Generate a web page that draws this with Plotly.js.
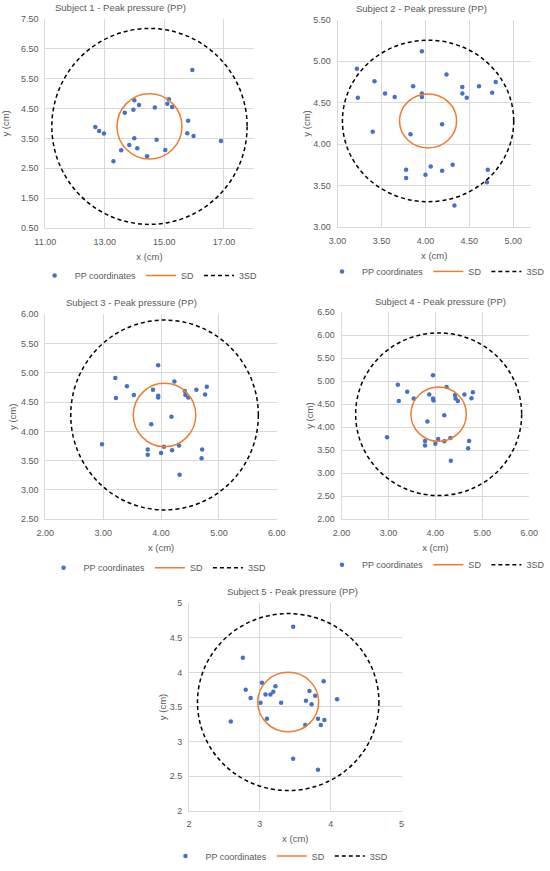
<!DOCTYPE html>
<html>
<head>
<meta charset="utf-8">
<script src="https://cdn.plot.ly/plotly-3.0.1.min.js"></script>
<style>html,body{margin:0;padding:0;background:#fff}#chart{width:550px;height:871px}</style>
</head>
<body>
<div id="chart"></div>
<script>
// ---- data ----
var titles = ["Subject 1 - Peak pressure (PP)", "Subject 2 - Peak pressure (PP)", "Subject 3 - Peak pressure (PP)", "Subject 4 - Peak pressure (PP)", "Subject 5 - Peak pressure (PP)"];

var s1x = [15.94,13.99,15.15,15.10,14.15,13.96,14.68,15.26,13.67,15.80,12.68,12.81,12.97,15.77,15.98,16.90,13.99,14.74,13.82,14.09,13.55,15.03,14.42,13.29];
var s1y = [5.79,4.78,4.81,4.66,4.62,4.46,4.53,4.55,4.36,4.09,3.88,3.75,3.66,3.67,3.58,3.41,3.50,3.45,3.28,3.17,3.10,3.11,2.90,2.73];

var s2x = [3.96,3.22,4.24,3.42,3.86,3.96,3.96,3.23,3.54,3.65,4.42,4.42,4.47,4.61,4.76,4.80,4.19,3.40,3.83,3.78,3.78,4.00,4.06,4.19,4.31,4.71,4.70,4.33];
var s2y = [5.12,4.91,4.84,4.76,4.70,4.61,4.57,4.56,4.61,4.57,4.69,4.61,4.56,4.70,4.62,4.75,4.24,4.15,4.12,3.69,3.59,3.63,3.73,3.68,3.75,3.69,3.54,3.26];

var s3x = [3.95,3.21,4.23,3.41,4.79,3.86,4.61,4.41,3.53,3.95,3.95,3.22,4.42,4.47,4.76,4.18,3.83,2.98,3.77,3.77,4.05,4.00,4.19,4.31,4.71,4.70,4.32];
var s3y = [5.13,4.91,4.85,4.77,4.76,4.71,4.71,4.69,4.62,4.61,4.58,4.57,4.62,4.58,4.63,4.25,4.12,3.78,3.69,3.60,3.74,3.63,3.68,3.76,3.69,3.54,3.26];

var s4x = [3.95,3.20,4.24,3.40,4.80,3.87,4.62,4.42,3.54,3.95,3.96,3.22,4.43,4.48,4.77,4.19,3.83,2.97,3.78,3.78,4.06,4.00,4.19,4.32,4.72,4.70,4.33];
var s4y = [5.13,4.92,4.87,4.77,4.76,4.71,4.71,4.70,4.62,4.62,4.58,4.57,4.62,4.57,4.63,4.26,4.12,3.78,3.70,3.60,3.74,3.64,3.69,3.76,3.70,3.54,3.27];

var s5x = [3.47,2.76,3.03,3.90,2.80,3.22,3.19,3.70,3.08,3.15,2.87,3.78,4.09,3.65,3.01,3.30,3.73,2.59,3.10,3.82,3.91,3.64,3.86,3.47,3.82];
var s5y = [4.66,4.21,3.85,3.87,3.75,3.80,3.72,3.73,3.68,3.68,3.63,3.66,3.61,3.59,3.56,3.56,3.54,3.29,3.33,3.33,3.31,3.24,3.24,2.75,2.59];

var centerX = [14.50, 4.03, 4.06, 4.07, 3.40];
var centerY = [3.90, 4.28, 4.28, 4.28, 3.57];
var sdRadius = [1.09, 0.325, 0.54, 0.59, 0.43];
var sd3Radius = [3.28, 0.975, 1.62, 1.77, 1.28];

var xRanges = [[11, 18], [3, 5.2], [2, 6], [2, 6], [2, 5]];
var yRanges = [[0.5, 7.5], [3, 5.5], [2.5, 6], [2, 6.5], [2, 5]];
var xTick0 = [11, 3, 2, 2, 2];
var xDtick = [2, 0.5, 1, 1, 1];
var yTick0 = [0.5, 3, 2.5, 2, 2];
var yDtick = [1, 0.5, 0.5, 0.5, 0.5];
var tickFormats = [".2f", ".2f", ".2f", ".2f", ""];

var seriesX = [s1x, s2x, s3x, s4x, s5x];
var seriesY = [s1y, s2y, s3y, s4y, s5y];

// ---- layout geometry (page pixels) ----
var W = 550, H = 871;
var boxes = [
  {l: 45.7, r: 256.0, t: 19.0, b: 229.3, legX: 150, legY: 277, titleX: 122, titleY: 8, ytStand: 11},
  {l: 340.7, r: 535.7, t: 20.0, b: 228.3, legX: 440, legY: 273, titleX: 425, titleY: 9, ytStand: 1},
  {l: 45.7, r: 279.4, t: 316.0, b: 522.3, legX: 159, legY: 571, titleX: 133, titleY: 304, ytStand: 2},
  {l: 344.7, r: 534.0, t: 314.0, b: 522.0, legX: 440, legY: 568, titleX: 445, titleY: 303, ytStand: 2},
  {l: 190.7, r: 405.3, t: 606.7, b: 815.3, legX: 282, legY: 861, titleX: 295, titleY: 595, ytStand: 1}
];

var FONT = "Liberation Sans, Arial, sans-serif";
var GREY = "#595959";
var GRID = "#d9d9d9";
var BLUE = "#4472c4";
var ORANGE = "#ed7d31";

var traces = [];
var shapes = [];
var annotations = [];
var layout = {
  width: W, height: H,
  margin: {l: 0, r: 0, t: 0, b: 0},
  paper_bgcolor: "#ffffff",
  plot_bgcolor: "#ffffff",
  font: {family: FONT, color: GREY, size: 9},
  showlegend: true
};

for (var i = 0; i < 5; i++) {
  var n = i + 1;
  var xa = "x" + (n === 1 ? "" : n);
  var ya = "y" + (n === 1 ? "" : n);
  var xKey = "xaxis" + (n === 1 ? "" : n);
  var yKey = "yaxis" + (n === 1 ? "" : n);
  var legKey = "legend" + (n === 1 ? "" : n);
  var b = boxes[i];

  layout[xKey] = {
    domain: [b.l / W, b.r / W],
    anchor: ya,
    range: xRanges[i],
    tick0: xTick0[i], dtick: xDtick[i],
    tickformat: tickFormats[i],
    showgrid: true, gridcolor: GRID, gridwidth: 0.8,
    zeroline: false,
    showline: true, linecolor: GRID, linewidth: 0.8,
    ticks: "outside", ticklen: 5, tickcolor: "rgba(0,0,0,0)",
    tickfont: {family: FONT, size: 9, color: GREY},
    title: {text: "x (cm)", font: {family: FONT, size: 9.5, color: GREY}, standoff: 7},
    fixedrange: true
  };
  layout[yKey] = {
    domain: [1 - b.b / H, 1 - b.t / H],
    anchor: xa,
    range: yRanges[i],
    tick0: yTick0[i], dtick: yDtick[i],
    tickformat: tickFormats[i],
    showgrid: true, gridcolor: GRID, gridwidth: 0.8,
    zeroline: false,
    showline: true, linecolor: GRID, linewidth: 0.8,
    ticks: "outside", ticklen: 4, tickcolor: "rgba(0,0,0,0)",
    tickfont: {family: FONT, size: 9, color: GREY},
    title: {text: "y (cm)", font: {family: FONT, size: 9.5, color: GREY}, standoff: b.ytStand},
    fixedrange: true
  };
  layout[legKey] = {
    orientation: "h",
    x: b.legX / W, xanchor: "center",
    y: 1 - b.legY / H, yanchor: "middle",
    font: {family: FONT, size: 9, color: GREY},
    bgcolor: "rgba(0,0,0,0)",
    itemwidth: 30,
    tracegroupgap: 0
  };

  traces.push({
    type: "scatter", mode: "markers",
    x: seriesX[i], y: seriesY[i],
    xaxis: xa, yaxis: ya,
    name: "PP coordinates",
    legend: legKey,
    marker: {color: BLUE, size: 4.5},
    hoverinfo: "x+y"
  });
  // legend entries for the circles (circles themselves drawn as data-referenced shapes)
  traces.push({
    type: "scatter", mode: "lines",
    x: [null], y: [null],
    xaxis: xa, yaxis: ya,
    name: "SD", legend: legKey,
    line: {color: ORANGE, width: 1.5}
  });
  traces.push({
    type: "scatter", mode: "lines",
    x: [null], y: [null],
    xaxis: xa, yaxis: ya,
    name: "3SD", legend: legKey,
    line: {color: "#000000", width: 1.5, dash: "4px,3px"}
  });

  shapes.push({
    type: "circle", xref: xa, yref: ya,
    x0: centerX[i] - sdRadius[i], x1: centerX[i] + sdRadius[i],
    y0: centerY[i] - sdRadius[i], y1: centerY[i] + sdRadius[i],
    line: {color: ORANGE, width: 1.5},
    layer: "above"
  });
  shapes.push({
    type: "circle", xref: xa, yref: ya,
    x0: centerX[i] - sd3Radius[i], x1: centerX[i] + sd3Radius[i],
    y0: centerY[i] - sd3Radius[i], y1: centerY[i] + sd3Radius[i],
    line: {color: "#000000", width: 1.5, dash: "4px,3px"},
    layer: "above"
  });

  annotations.push({
    xref: "paper", yref: "paper",
    x: b.titleX / W, y: 1 - b.titleY / H,
    xanchor: "center", yanchor: "middle",
    text: titles[i], showarrow: false,
    font: {family: FONT, size: 9.5, color: GREY}
  });
}

layout.shapes = shapes;
layout.annotations = annotations;

Plotly.newPlot("chart", traces, layout, {displayModeBar: false});
</script>
</body>
</html>
